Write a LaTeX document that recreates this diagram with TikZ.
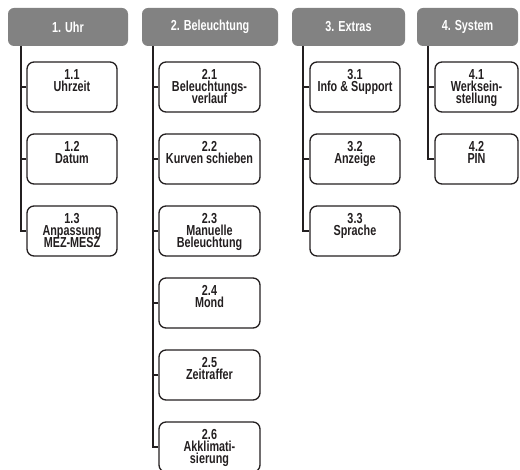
\documentclass[tikz,border=0pt]{standalone}
\usepackage{fontspec}
\newfontfamily\labfont[FakeStretch=0.745]{Liberation Sans}
\newcommand\mylabfont{\labfont\bfseries\fontsize{14.5}{12.2}\selectfont\lineskiplimit=-100pt\relax\lineskip=0pt\relax}
\definecolor{hdrgray}{HTML}{828282}
\definecolor{ink}{HTML}{231F20}
\begin{document}
\begin{tikzpicture}[x=1pt,y=-1pt,
  labtext/.style={font=\mylabfont},
  hdr/.style={labtext, fill=hdrgray, rounded corners=6pt, minimum height=38pt, inner sep=0pt, text=white},
  item/.style={draw=ink, line width=1.3pt, rounded corners=7pt, minimum height=50pt, inner sep=0pt},
  itemtxt/.style={labtext, anchor=north, yshift=-7.5pt, align=center, inner sep=0pt, text=ink},
  conn/.style={draw=ink, line width=1.2pt}]
\useasboundingbox (0,0) rectangle (520,470);
\clip (0,0) rectangle (520,470);
% headers
\node[hdr, minimum width=120pt] (h1) at (68,27) {1. Uhr};
\node[hdr, minimum width=136pt] (h2) at (210,27) {2. Beleuchtung};
\node[hdr, minimum width=113pt] (h3) at (348.5,27) {3. Extras};
\node[hdr, minimum width=101pt] (h4) at (467.5,27) {4. System};
% tree line tops
\coordinate (v1) at (21,46);
\coordinate (v2) at (153,46);
\coordinate (v3) at (303,46);
\coordinate (v4) at (428,46);
% column 1
\node[item, minimum width=90pt, label={[itemtxt]north:{1.1\\Uhrzeit}}] (c11) at (72,87) {};
\node[item, minimum width=90pt, label={[itemtxt]north:{1.2\\Datum}}] (c12) at (72,159) {};
\node[item, minimum width=90pt, label={[itemtxt]north:{1.3\\Anpassung\\MEZ-MESZ}}] (c13) at (72,231) {};
% column 2
\node[item, minimum width=101pt, label={[itemtxt]north:{2.1\\Beleuchtungs-\\verlauf}}] (c21) at (209.5,87) {};
\node[item, minimum width=101pt, label={[itemtxt]north:{2.2\\Kurven schieben}}] (c22) at (209.5,159) {};
\node[item, minimum width=101pt, label={[itemtxt]north:{2.3\\Manuelle\\Beleuchtung}}] (c23) at (209.5,231) {};
\node[item, minimum width=101pt, label={[itemtxt]north:{2.4\\Mond}}] (c24) at (209.5,303) {};
\node[item, minimum width=101pt, label={[itemtxt]north:{2.5\\Zeitraffer}}] (c25) at (209.5,375) {};
\node[item, minimum width=101pt, label={[itemtxt]north:{2.6\\Akklimati-\\sierung}}] (c26) at (209.5,447) {};
% column 3
\node[item, minimum width=90pt, label={[itemtxt]north:{3.1\\Info \& Support}}] (c31) at (355,87) {};
\node[item, minimum width=90pt, label={[itemtxt]north:{3.2\\Anzeige}}] (c32) at (355,159) {};
\node[item, minimum width=90pt, label={[itemtxt]north:{3.3\\Sprache}}] (c33) at (355,231) {};
% column 4
\node[item, minimum width=83pt, label={[itemtxt]north:{4.1\\Werksein-\\stellung}}] (c41) at (476.5,87) {};
\node[item, minimum width=83pt, label={[itemtxt]north:{4.2\\PIN}}] (c42) at (476.5,159) {};
% connectors
\draw[conn] (v1) |- (c13.west);
\draw[conn] (c11.west) -- (c11.west -| v1);
\draw[conn] (c12.west) -- (c12.west -| v1);
\draw[conn] (v2) |- (c26.west);
\draw[conn] (c21.west) -- (c21.west -| v2);
\draw[conn] (c22.west) -- (c22.west -| v2);
\draw[conn] (c23.west) -- (c23.west -| v2);
\draw[conn] (c24.west) -- (c24.west -| v2);
\draw[conn] (c25.west) -- (c25.west -| v2);
\draw[conn] (v3) |- (c33.west);
\draw[conn] (c31.west) -- (c31.west -| v3);
\draw[conn] (c32.west) -- (c32.west -| v3);
\draw[conn] (v4) |- (c42.west);
\draw[conn] (c41.west) -- (c41.west -| v4);
\end{tikzpicture}
\end{document}
